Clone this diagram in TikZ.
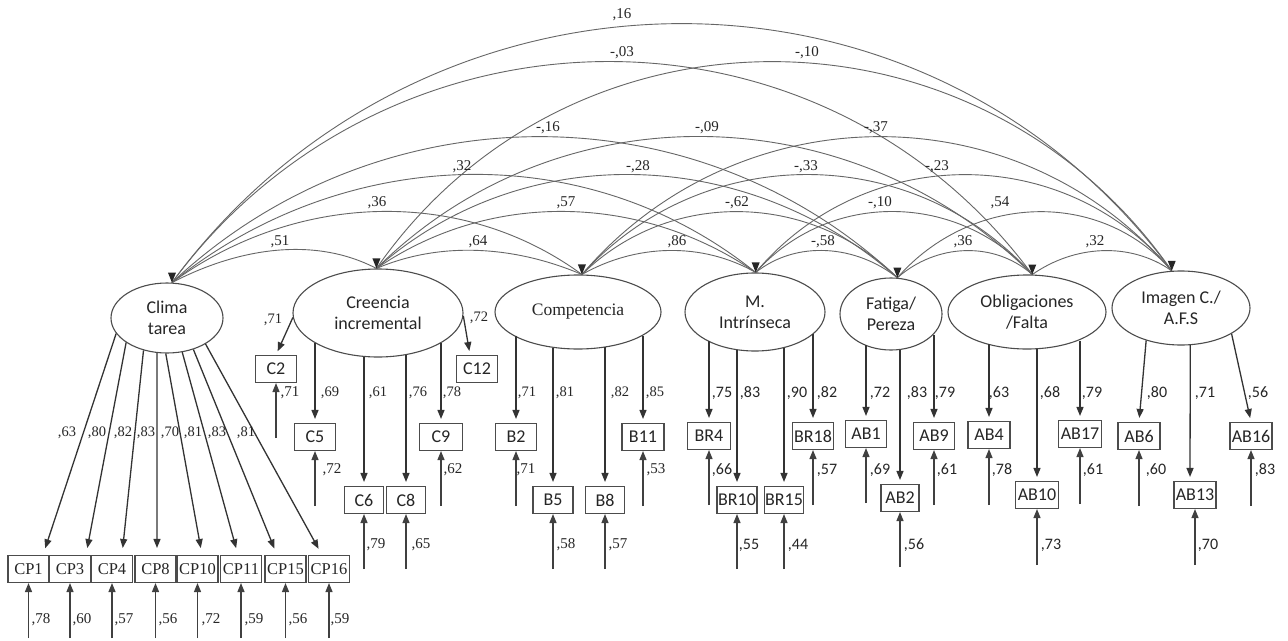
\documentclass[tikz,border=0pt]{standalone}
\usepackage{fontspec}
\setmainfont{Liberation Serif}
\newfontfamily\sansC{Carlito}
\usetikzlibrary{shapes.geometric,arrows.meta,calc}
% tip positions (px) used for arc curvature
\def\pxA{172}\def\pyA{283}
\def\pxB{376}\def\pyB{269}
\def\pxC{582}\def\pyC{275}
\def\pxD{756}\def\pyD{273}
\def\pxE{897}\def\pyE{278}
\def\pxF{1032}\def\pyF{275}
\def\pxG{1172}\def\pyG{271}
\newcommand\covarc[3]{%
 \pgfmathsetmacro\cvC{\csname px#2\endcsname-\csname px#1\endcsname}%
 \pgfmathsetmacro\cvS{(\csname py#1\endcsname+\csname py#2\endcsname)/2-#3}%
 \pgfmathsetmacro\cvT{2*\cvS/\cvC}%
 \pgfmathsetmacro\cvH{\cvC*(1-\cvT*\cvT)/3}%
 \pgfmathsetmacro\cvV{4*\cvS/3}%
 \draw[cov] (t#1) .. controls +(\cvH,-\cvV) and +(-\cvH,-\cvV) .. (t#2);%
}
\newcommand\lbl[5]{\node[#1] (#2) at (#3,#4) {#5};}
\begin{document}
\begin{tikzpicture}[x=1pt,y=-1pt,
 lat/.style={ellipse, draw=black!70, line width=1.1pt, inner sep=0pt, align=center, text=black!85, font=\sansC\fontsize{18}{21}\selectfont},
 obs/.style={rectangle, draw=black!70, line width=1.1pt, inner sep=0pt, minimum width=41pt, minimum height=27pt, text=black!85, font=\sansC\fontsize{18}{20}\selectfont},
 obsr/.style={obs, font=\fontsize{16.5}{18}\selectfont},
 load/.style={draw=black!80, line width=1.3pt, -{Triangle[length=9pt,width=7pt]}, shorten >=4pt},
 err/.style={draw=black!75, line width=1.3pt, -{Triangle[length=9pt,width=7pt]}},
 cov/.style={draw=black!60, line width=0.9pt},
 tipm/.style={fill=black!85},
 cl/.style={inner sep=0pt, text=black!85, font=\fontsize{15}{15}\selectfont},
 ls/.style={inner sep=0pt, text=black!85, font=\fontsize{14.5}{15}\selectfont},
 lc/.style={inner sep=0pt, text=black!85, font=\sansC\fontsize{16}{16}\selectfont}
]
\useasboundingbox (0,0) rectangle (1288,640);
\fill[white] (0,0) rectangle (1288,640);

% latent factors
\node[lat, minimum width=112pt, minimum height=70pt] (clima) at (167,318) {Clima\\tarea};
\node[lat, minimum width=170pt, minimum height=88pt] (creencia) at (378,313) {Creencia\\incremental};
\node[lat, minimum width=166pt, minimum height=74pt, font=\fontsize{17.5}{21}\selectfont] (compet) at (578,312) {Competencia};
\node[lat, minimum width=140pt, minimum height=78pt] (mi) at (755,312) {M.\\Intrínseca};
\node[lat, minimum width=102pt, minimum height=72pt] (fatiga) at (891,314) {Fatiga/\\Pereza};
\node[lat, minimum width=158pt, minimum height=74pt] (oblig) at (1027,312) {Obligaciones\\/Falta};
\node[lat, minimum width=138pt, minimum height=74pt] (imagen) at (1181,308) {Imagen C./\\A.F.S};

\coordinate (tA) at (clima.82);
\coordinate (tB) at (creencia.92);
\coordinate (tC) at (compet.84);
\coordinate (tD) at (mi.89);
\coordinate (tE) at (fatiga.80);
\coordinate (tF) at (oblig.82);
\coordinate (tG) at (imagen.104);

% covariance arcs
\covarc{A}{B}{251}\covarc{B}{C}{251}\covarc{C}{D}{251}\covarc{D}{E}{251}\covarc{E}{F}{251}\covarc{F}{G}{251}
\covarc{A}{C}{212}\covarc{B}{D}{212}\covarc{C}{E}{212}\covarc{D}{F}{212}\covarc{E}{G}{212}
\covarc{A}{D}{175}\covarc{B}{E}{175}\covarc{C}{F}{175}\covarc{D}{G}{175}
\covarc{A}{E}{137}\covarc{B}{F}{137}\covarc{C}{G}{137}
\covarc{A}{F}{62}\covarc{B}{G}{62}
\covarc{A}{G}{24}
\foreach \t in {A,B,C,D,E,F,G}{\fill[tipm] (t\t) -- ++(-4,-10) -- ++(8,0) -- cycle;}

% covariance labels
\lbl{cl}{v1}{622}{15}{,16}
\lbl{cl}{v2}{622}{53}{-,03}
\lbl{cl}{v3}{807}{53}{-,10}
\lbl{cl}{v4}{548}{128}{-,16}
\lbl{cl}{v5}{707}{128}{-,09}
\lbl{cl}{v6}{876}{128}{-,37}
\lbl{cl}{v7}{462}{167}{,32}
\lbl{cl}{v8}{638}{167}{-,28}
\lbl{cl}{v9}{806}{167}{-,33}
\lbl{cl}{v10}{937}{167}{-,23}
\lbl{cl}{v11}{377}{203}{,36}
\lbl{cl}{v12}{566}{203}{,57}
\lbl{cl}{v13}{737}{203}{-,62}
\lbl{cl}{v14}{880}{203}{-,10}
\lbl{cl}{v15}{1000}{203}{,54}
\lbl{cl}{v16}{280}{242}{,51}
\lbl{cl}{v17}{478}{242}{,64}
\lbl{cl}{v18}{677}{242}{,86}
\lbl{cl}{v19}{823}{242}{-,58}
\lbl{cl}{v20}{963}{242}{,36}
\lbl{cl}{v21}{1095}{242}{,32}

% observed: Clima tarea
\node[obsr] (cp1) at (28.5,569) {CP1};
\node[obsr] (cp3) at (70,569) {CP3};
\node[obsr] (cp4) at (112,569) {CP4};
\node[obsr] (cp8) at (155.5,569) {CP8};
\node[obsr] (cp10) at (197.5,569) {CP10};
\node[obsr] (cp11) at (241,569) {CP11};
\node[obsr] (cp15) at (285.5,569) {CP15};
\node[obsr] (cp16) at (329,569) {CP16};
\draw[load, shorten >=7pt] (clima.197) -- ([xshift=14.5pt]cp1.north);
\draw[load, shorten >=7pt] (clima.211) -- ([xshift=16pt]cp3.north);
\draw[load, shorten >=7pt] (clima.234) -- ([xshift=10pt]cp4.north);
\draw[load, shorten >=7pt] (clima.254) -- ([xshift=1.5pt]cp8.north);
\draw[load, shorten >=7pt] (clima.268) -- ([xshift=4.5pt]cp10.north);
\draw[load, shorten >=7pt] (clima.294) -- ([xshift=-3pt]cp11.north);
\draw[load, shorten >=7pt] (clima.310) -- ([xshift=-8.5pt]cp15.north);
\draw[load, shorten >=7pt] (clima.326) -- ([xshift=-7pt]cp16.north);
\foreach \b in {cp1,cp3,cp4,cp8,cp10,cp11,cp15,cp16}{\draw[err] ([yshift=-55pt]\b.south) -- (\b.south);}
\lbl{ls}{a1}{67}{433}{,63}
\lbl{ls}{a2}{97}{433}{,80}
\lbl{ls}{a3}{123}{433}{,82}
\lbl{ls}{a4}{146}{433}{,83}
\lbl{ls}{a5}{170}{433}{,70}
\lbl{ls}{a6}{193}{433}{,81}
\lbl{ls}{a7}{217}{433}{,83}
\lbl{ls}{a8}{246}{433}{,81}
\lbl{cl}{r1}{41}{620}{,78}
\lbl{cl}{r2}{82}{620}{,60}
\lbl{cl}{r3}{124}{620}{,57}
\lbl{cl}{r4}{168}{620}{,56}
\lbl{cl}{r5}{211}{620}{,72}
\lbl{cl}{r6}{254}{620}{,59}
\lbl{cl}{r7}{298}{620}{,56}
\lbl{cl}{r8}{340}{620}{,59}

% observed: Creencia incremental
\node[obs] (c2) at (276,369) {C2};
\node[obs] (c5) at (315,437) {C5};
\node[obs, minimum width=39pt] (c6) at (364,500) {C6};
\node[obs, minimum width=39pt] (c8) at (406,500) {C8};
\node[obs, minimum width=43pt] (c9) at (441,437) {C9};
\node[obs] (c12) at (477,369) {C12};
\draw[load] (creencia.183) -- (c2.north);
\draw[load] (c5.north |- creencia.206) -- (c5.north);
\draw[load] (c6.north |- creencia.253) -- (c6.north);
\draw[load] (c8.north |- creencia.304) -- (c8.north);
\draw[load] (c9.north |- creencia.334) -- (c9.north);
\draw[load] (creencia.358) -- ([xshift=-7pt]c12.north);
\foreach \b in {c2,c5,c6,c8,c9}{\draw[err] ([yshift=-55pt]\b.south) -- (\b.south);}
\lbl{ls}{a9}{273}{320}{,71}
\lbl{ls}{a10}{479}{318}{,72}
\lbl{ls}{a11}{330}{393}{,69}
\lbl{ls}{a12}{378}{393}{,61}
\lbl{ls}{a13}{418}{393}{,76}
\lbl{ls}{a14}{452}{393}{,78}
\lbl{cl}{r9}{290}{393}{,71}
\lbl{cl}{r10}{332}{470}{,72}
\lbl{cl}{r11}{376}{545}{,79}
\lbl{cl}{r12}{421}{545}{,65}
\lbl{cl}{r13}{453}{470}{,62}

% observed: Competencia
\node[obs] (b2) at (516,437) {B2};
\node[obs, minimum width=40pt] (b5) at (553,500) {B5};
\node[obs, minimum width=39pt] (b8) at (605,500) {B8};
\node[obs, minimum width=42pt] (b11) at (643,437) {B11};
\draw[load] (b2.north |- compet.200) -- (b2.north);
\draw[load] (b5.north |- compet.234) -- (b5.north);
\draw[load] (b8.north |- compet.309) -- (b8.north);
\draw[load] (b11.north |- compet.340) -- (b11.north);
\foreach \b in {b2,b5,b8,b11}{\draw[err] ([yshift=-55pt]\b.south) -- (\b.south);}
\lbl{ls}{a15}{527}{393}{,71}
\lbl{ls}{a16}{565}{393}{,81}
\lbl{ls}{a17}{620}{393}{,82}
\lbl{ls}{a18}{655}{393}{,85}
\lbl{cl}{r14}{526}{470}{,71}
\lbl{cl}{r15}{566}{545}{,58}
\lbl{cl}{r16}{618}{545}{,57}
\lbl{cl}{r17}{656}{470}{,53}

% observed: M. Intrinseca
\node[obs, minimum width=43pt] (br4) at (709,436) {BR4};
\node[obs, minimum width=40pt] (br10) at (737,500) {BR10};
\node[obs, minimum width=39pt] (br15) at (784,500) {BR15};
\node[obs] (br18) at (813,436) {BR18};
\draw[load] (br4.north |- mi.211) -- (br4.north);
\draw[load] (br10.north |- mi.245) -- (br10.north);
\draw[load] (br15.north |- mi.310) -- (br15.north);
\draw[load] (br18.north |- mi.339) -- (br18.north);
\foreach \b in {br4,br10,br15,br18}{\draw[err] ([yshift=-55pt]\b.south) -- (\b.south);}
\lbl{lc}{a19}{722}{393}{,75}
\lbl{lc}{a20}{750}{393}{,83}
\lbl{lc}{a21}{797}{393}{,90}
\lbl{lc}{a22}{827}{393}{,82}
\lbl{lc}{r18}{722}{470}{,66}
\lbl{lc}{r19}{749}{545}{,55}
\lbl{lc}{r20}{798}{545}{,44}
\lbl{lc}{r21}{827}{470}{,57}

% observed: Fatiga/Pereza
\node[obs] (ab1) at (866,434) {AB1};
\node[obs, minimum width=38pt] (ab2) at (900,498) {AB2};
\node[obs] (ab9) at (934,436) {AB9};
\draw[load] (ab1.north |- fatiga.228) -- (ab1.north);
\draw[load] (ab2.north |- fatiga.286) -- (ab2.north);
\draw[load] (ab9.north |- fatiga.334) -- (ab9.north);
\foreach \b in {ab1,ab2,ab9}{\draw[err] ([yshift=-55pt]\b.south) -- (\b.south);}
\lbl{lc}{a23}{880}{393}{,72}
\lbl{lc}{a24}{917}{393}{,83}
\lbl{lc}{a25}{945}{393}{,79}
\lbl{lc}{r22}{880}{470}{,69}
\lbl{lc}{r23}{914}{545}{,56}
\lbl{lc}{r24}{947}{470}{,61}

% observed: Obligaciones/Falta
\node[obs, minimum width=42pt] (ab4) at (989,435) {AB4};
\node[obs, minimum width=43pt] (ab10) at (1037,495) {AB10};
\node[obs, minimum width=43pt] (ab17) at (1080,434) {AB17};
\draw[load] (ab4.north |- oblig.219) -- (ab4.north);
\draw[load] (ab10.north |- oblig.287) -- (ab10.north);
\draw[load] (ab17.north |- oblig.331) -- (ab17.north);
\foreach \b in {ab4,ab10,ab17}{\draw[err] ([yshift=-56pt]\b.south) -- (\b.south);}
\lbl{lc}{a26}{999}{393}{,63}
\lbl{lc}{a27}{1050}{393}{,68}
\lbl{lc}{a28}{1092}{393}{,79}
\lbl{lc}{r25}{1002}{470}{,78}
\lbl{lc}{r26}{1051}{545}{,73}
\lbl{lc}{r27}{1093}{470}{,61}

% observed: Imagen C./A.F.S
\node[obs, minimum width=42pt] (ab6) at (1139,436) {AB6};
\node[obs, minimum width=42pt] (ab13) at (1195,495) {AB13};
\node[obs, minimum width=42pt] (ab16) at (1251,436) {AB16};
\draw[load] (imagen.223) -- (ab6.north);
\draw[load] (imagen.284) -- ([xshift=-5pt]ab13.north);
\draw[load] (imagen.333) -- (ab16.north);
\foreach \b in {ab6,ab13,ab16}{\draw[err] ([yshift=-56pt]\b.south) -- (\b.south);}
\lbl{lc}{a29}{1157}{393}{,80}
\lbl{lc}{a30}{1205}{393}{,71}
\lbl{lc}{a31}{1258}{393}{,56}
\lbl{lc}{r28}{1156}{470}{,60}
\lbl{lc}{r29}{1208}{545}{,70}
\lbl{lc}{r30}{1265}{470}{,83}
\end{tikzpicture}
\end{document}
